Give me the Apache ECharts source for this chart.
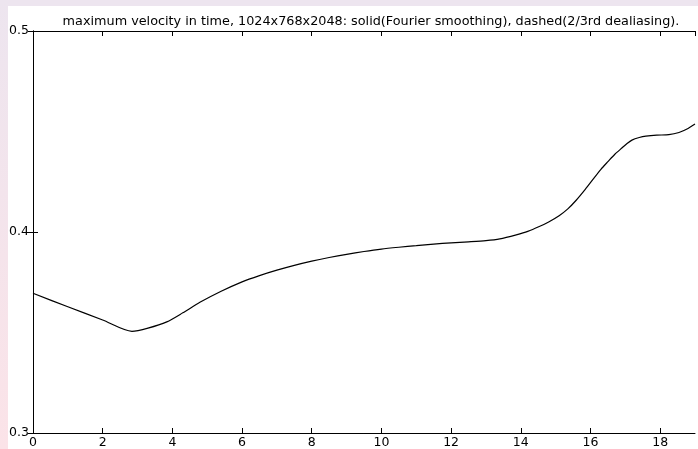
<!DOCTYPE html>
<html>
<head>
<meta charset="utf-8">
<script src="https://cdn.jsdelivr.net/npm/echarts@6/dist/echarts.min.js"></script>
<style>
  html, body { margin: 0; padding: 0; background: #fff; }
  #chart { width: 698px; height: 449px; }
</style>
</head>
<body>
<div id="chart"></div>
<script>
// 时间 (横轴)
const timeValues = [0, 1, 2, 2.84, 3.3, 3.84, 4.3, 4.79, 5.4, 6, 6.5, 7, 7.5, 8, 8.5, 9, 9.5, 10, 10.5, 11, 11.5, 12, 12.5, 13, 13.4, 13.87, 14.2, 14.53, 14.8, 15.1, 15.35, 15.59, 15.85, 16.1, 16.3, 16.5, 16.7, 16.91, 17.05, 17.19, 17.4, 17.59, 17.9, 18.25, 18.54, 18.8, 19];
// 最大速度 (纵轴)
const maxVelocity = [0.3695, 0.3628, 0.3562, 0.3506, 0.3522, 0.3553, 0.3598, 0.3650, 0.3705, 0.3752, 0.3783, 0.3810, 0.3834, 0.3855, 0.3873, 0.3889, 0.3903, 0.3915, 0.3924, 0.3932, 0.3940, 0.3946, 0.3951, 0.3957, 0.3966, 0.3986, 0.4003, 0.4027, 0.4050, 0.4081, 0.4115, 0.4158, 0.4212, 0.4268, 0.4312, 0.4350, 0.4387, 0.4419, 0.4440, 0.4457, 0.4470, 0.4477, 0.4482, 0.4484, 0.4495, 0.4515, 0.4537];
const xTicks = [0, 2, 4, 6, 8, 10, 12, 14, 16, 18];
const yTicks = [0.3, 0.4, 0.5];
const titleText = 'maximum velocity in time, 1024x768x2048: solid(Fourier smoothing), dashed(2/3rd dealiasing).';

const chartInstance = echarts.init(document.getElementById('chart'));

const fontFamily = 'DejaVu Sans, Liberation Sans, sans-serif';
const axisFont = { color: '#000', fontSize: 12.5, fontFamily };

const option = {
    animation: false,
    backgroundColor: '#fff',
    // 背景装饰条
    graphic: [
        { type: 'rect', shape: { x: 0, y: 0, width: 698, height: 6 }, style: { fill: '#ede5ef' }, silent: true },
        {
            type: 'rect', shape: { x: 0, y: 0, width: 8, height: 449 }, silent: true,
            style: {
                fill: new echarts.graphic.LinearGradient(0, 0, 0, 1, [
                    { offset: 0, color: '#ede5ef' },
                    { offset: 1, color: '#fbe3e8' },
                ]),
            },
        },
    ],
    title: {
        text: titleText,
        left: 366,
        textAlign: 'center',
        top: 10,
        textStyle: { color: '#000', fontSize: 12.8, fontWeight: 'normal', fontFamily },
    },
    grid: { left: 33, right: 3, top: 31, bottom: 15, containLabel: false },
    xAxis: [
        {
            type: 'value', min: 0, max: 19, interval: 2,
            axisLine: { lineStyle: { color: '#000', width: 1 } },
            axisTick: { inside: true, length: 5, lineStyle: { color: '#000' } },
            axisLabel: { ...axisFont, margin: 3, showMaxLabel: false, formatter: (v) => (xTicks.includes(v) ? String(v) : '') },
            splitLine: { show: false },
        },
        {
            type: 'value', min: 0, max: 19, interval: 2, position: 'top',
            axisLine: { show: true, lineStyle: { color: '#000', width: 1 } },
            axisTick: { inside: true, length: 5, lineStyle: { color: '#000' } },
            axisLabel: { show: false },
            splitLine: { show: false },
        },
    ],
    yAxis: [
        {
            type: 'value', min: 0.3, max: 0.5, interval: 0.1,
            axisLine: { show: true, lineStyle: { color: '#000', width: 1 } },
            axisTick: { show: true, inside: true, length: 5, lineStyle: { color: '#000' } },
            axisLabel: { ...axisFont, margin: 4, formatter: (v) => {
                const t = yTicks.find((k) => Math.abs(k - v) < 1e-9);
                return t !== undefined ? t.toFixed(1) : '';
            } },
            splitLine: { show: false },
        },
        {
            type: 'value', min: 0.3, max: 0.5, interval: 0.1, position: 'right',
            axisLine: { show: true, lineStyle: { color: '#000', width: 1 } },
            axisTick: { show: true, inside: true, length: 5, lineStyle: { color: '#000' } },
            axisLabel: { show: false },
            splitLine: { show: false },
        },
    ],
    series: [
        {
            name: 'max velocity',
            type: 'line',
            data: timeValues.map((t, i) => [t, maxVelocity[i]]),
            showSymbol: false,
            smooth: 0.25,
            clip: true,
            lineStyle: { color: '#000', width: 1.2 },
        },
    ],
};

chartInstance.setOption(option);
</script>
</body>
</html>
